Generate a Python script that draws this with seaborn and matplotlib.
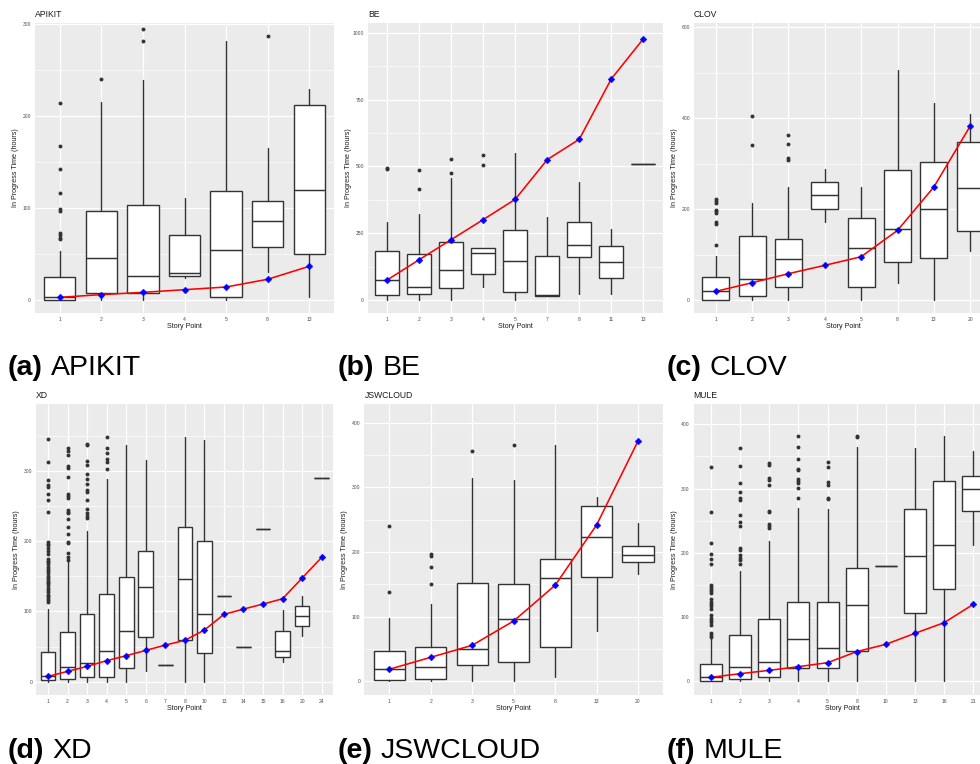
import numpy as np
import matplotlib
matplotlib.use("Agg")
import matplotlib.pyplot as plt
import seaborn as sns

# ---------------- DATA ----------------
# APIKIT
apikit_sp = ["1", "2", "3", "4", "5", "8", "13"]
apikit_q1 = [0, 7.3, 7.3, 25.8, 3.6, 57.3, 50]
apikit_med = [2.9, 45.7, 25.8, 29.4, 54.4, 86.3, 119.3]
apikit_q3 = [25.4, 97.2, 103, 70.4, 118.6, 107.4, 211.8]
apikit_lo = [0, 0, 0, 23.6, 0, 30.8, 2.9]
apikit_hi = [53.7, 216, 240, 111.4, 282.5, 165, 230]
apikit_out = [[215, 168, 143, 117, 99, 97, 73, 71, 68, 66], [241], [282.5, 295.6], [], [], [287.6], []]
apikit_line = [2.9, 5.8, 8.3, 11.2, 14.1, 22.5, 36.6]

# BE
be_sp = ["1", "2", "3", "4", "5", "7", "8", "11", "13"]
be_q1 = [17.5, 21, 43.7, 96, 28.7, 16.2, 159.8, 82.4, 510.6]
be_med = [75, 48.7, 111, 174.8, 144.8, 17.5, 206, 142.3, 510.6]
be_q3 = [185, 173.5, 216, 193.5, 261, 164.8, 291, 203.5, 510.6]
be_lo = [0, 0, 0, 47.4, 0, 16, 22.5, 21, 510.6]
be_hi = [291, 322, 455.7, 193.5, 551.8, 312, 440.7, 264.7, 510.6]
be_out = [[495.6, 490.6], [485.6, 417], [529, 474], [544, 507], [], [], [], [], []]
be_line = [75, 151, 226, 301, 377, 525.6, 601.7, 827.7, 977.5]

# CLOV
clov_sp = ["1", "2", "3", "4", "5", "8", "13", "20"]
clov_q1 = [0, 8.8, 27.8, 200, 27.8, 83.5, 92.3, 151.6]
clov_med = [19, 45.4, 90.8, 230, 115, 156.8, 200, 247]
clov_q3 = [49.8, 140.7, 134.8, 259.3, 181, 286.4, 303.3, 348]
clov_lo = [0, 0, 0, 172, 0, 38, 0, 107.7]
clov_hi = [96.7, 213, 247.6, 288, 249, 504.8, 433.7, 408]
clov_out = [[221, 217.6, 212.5, 198.5, 195.6, 192, 170.7, 167, 120.9], [341.4, 405], [307.7, 312.8, 344, 362.6], [], [], [], [], []]
clov_line = [19, 38, 57.9, 76.2, 95.2, 153, 248.4, 382.4]

# XD
xd_sp = ["1", "2", "3", "4", "5", "6", "7", "8", "10", "13", "14", "15", "16", "20", "24"]
xd_q1 = [1.9, 3.8, 6.2, 6.6, 19, 64, 24.2, 58.8, 40.3, 121.3, 48.8, 217.5, 35.5, 78.7, 289]
xd_med = [7.6, 20.9, 27, 43.6, 71.6, 134.6, 24.2, 145.5, 95.7, 121.3, 48.8, 217.5, 44, 93.4, 289]
xd_q3 = [42.7, 70.1, 96.2, 124.6, 148.3, 185.3, 24.2, 219.4, 200.5, 121.3, 48.8, 217.5, 72.5, 108, 289]
xd_lo = [0, 0, 0, 0, 0, 15.6, 24.2, 0, 0, 121.3, 48.8, 217.5, 28.4, 64.5, 289]
xd_hi = [102.8, 175.3, 214.7, 288, 336.5, 314.7, 24.2, 348.3, 343.6, 121.3, 48.8, 217.5, 101.4, 122.3, 289]
xd_out = [
    [345, 312, 287, 280, 277, 267, 259, 242, 199, 196, 194, 190, 186, 182, 175, 172, 170, 167,
     163, 160, 157, 154, 150, 148, 145, 142, 140, 137, 133, 130, 127, 124, 122, 119, 116, 114],
    [332.7, 328, 321.8, 306.6, 303.3, 291, 266.8, 264, 260.6, 244, 241.7, 239.3, 232, 219.4,
     210.4, 199, 196.7, 183.4, 178, 173],
    [337.9, 336, 314.2, 308, 294.8, 288.6, 281.5, 273, 269.2, 258.3, 245, 240.3, 236, 232.7],
    [347.4, 332.7, 324.6, 316.6, 312.8, 301.9],
    [], [], [], [], [], [], [], [], [], [], []]
xd_line = [7.6, 14.7, 21.8, 29.9, 37, 44.5, 52.1, 58.8, 73.5, 95.7, 103.3, 110.4, 118, 147.4, 176.8]

# JSWCLOUD
jsw_sp = ["1", "2", "3", "5", "8", "13", "20"]
jsw_q1 = [1.5, 4.1, 25.8, 29.9, 53.1, 161.4, 185]
jsw_med = [18.6, 22.7, 50, 95.9, 160.3, 223.2, 194.9]
jsw_q3 = [46.4, 53.6, 152.6, 150, 189.7, 271.7, 209.8]
jsw_lo = [0, 0, 0, 0, 6.7, 77.3, 166.5]
jsw_hi = [97.4, 120, 314, 311.9, 365, 285.6, 245.4]
jsw_out = [[138, 240], [150, 176.3, 194.3, 196.4], [356.2], [365], [], [], []]
jsw_line = [18.6, 37.1, 55.7, 93.3, 148.5, 241.8, 371.7]

# MULE
mule_sp = ["1", "2", "3", "4", "5", "8", "10", "13", "16", "21"]
mule_q1 = [0.5, 4.2, 6.2, 21.3, 20.2, 47.7, 179.5, 106.4, 144.2, 265]
mule_med = [6.2, 22.8, 30.6, 65.4, 51.4, 118.3, 179.5, 194.5, 212.2, 298.8]
mule_q3 = [27.5, 72, 96.5, 123, 123, 176.9, 179.5, 268.7, 312.3, 319]
mule_lo = [0, 0, 0, 0, 0, 0, 179.5, 0, 0, 212.2]
mule_hi = [67, 171.7, 217.9, 269.3, 267.7, 364.7, 179.5, 363.7, 382.4, 358]
mule_out = [
    [334, 264, 216, 198, 191, 183, 150, 147, 144, 140, 137, 128, 124, 120, 117, 113, 103, 99, 96, 92, 88, 75, 72, 69],
    [362.6, 334.6, 308.7, 294.7, 284.8, 281.7, 258.9, 248, 241.2, 208, 204.4, 196.6, 192.5, 188.8, 182.6],
    [339.8, 336.7, 316.5, 313.4, 305, 265.6, 263.5, 244.4, 241.8, 239.2],
    [381.8, 364.7, 346.6, 331, 329, 314.4, 311.8, 309.2, 301.4, 285.9],
    [340.9, 334, 310.2, 306.1, 285.9, 283.3],
    [382.4, 380.3], [], [], [], []]
mule_line = [6.2, 11.9, 17.1, 22.8, 29, 46.2, 57.6, 74.7, 91.3, 119.8]

titles = ["APIKIT", "BE", "CLOV", "XD", "JSWCLOUD", "MULE"]
captions = ["(a)", "(b)", "(c)", "(d)", "(e)", "(f)"]

# ---------------- STYLE ----------------
sns.set_theme(style="darkgrid")
plt.rcParams["font.family"] = ["Liberation Sans", "DejaVu Sans"]

W, H = 980, 764
fig = plt.figure(figsize=(W / 100, H / 100), dpi=100)

# panel pixel boxes: left, top, right, bottom
boxes_px = [
    (35, 23, 334, 313),
    (368, 23, 662.5, 313),
    (694, 23, 992, 313),
    (36.3, 404, 333.4, 695),
    (364.4, 404, 662.9, 695),
    (693.5, 404, 990.8, 695),
]
ylims = [(-14.2, 301.6), (-48.7, 1037), (-28.6, 609), (-18.9, 394.9), (-21.2, 429), (-21.3, 431.6)]
ymajor = [[0, 100, 200, 300], [0, 250, 500, 750, 1000], [0, 200, 400, 600],
          [0, 100, 200, 300], [0, 100, 200, 300, 400], [0, 100, 200, 300, 400]]

panels = [
    (apikit_sp, apikit_q1, apikit_med, apikit_q3, apikit_lo, apikit_hi, apikit_out, apikit_line),
    (be_sp, be_q1, be_med, be_q3, be_lo, be_hi, be_out, be_line),
    (clov_sp, clov_q1, clov_med, clov_q3, clov_lo, clov_hi, clov_out, clov_line),
    (xd_sp, xd_q1, xd_med, xd_q3, xd_lo, xd_hi, xd_out, xd_line),
    (jsw_sp, jsw_q1, jsw_med, jsw_q3, jsw_lo, jsw_hi, jsw_out, jsw_line),
    (mule_sp, mule_q1, mule_med, mule_q3, mule_lo, mule_hi, mule_out, mule_line),
]

edge = "#333333"
renderer = fig.canvas.get_renderer()
for i, (sp, q1, med, q3, lo, hi, out, line) in enumerate(panels):
    l, t, r, b = boxes_px[i]
    ax = fig.add_axes([l / W, 1 - b / H, (r - l) / W, (b - t) / H])
    ax.set_facecolor("#EBEBEB")
    n = len(sp)
    pos = np.arange(n)

    stats = []
    for k in range(n):
        stats.append(dict(med=med[k], q1=q1[k], q3=q3[k], whislo=lo[k], whishi=hi[k],
                          fliers=np.array(out[k], dtype=float)))
    ax.bxp(stats, positions=pos, widths=0.75, patch_artist=True, showcaps=False,
           boxprops=dict(facecolor="white", edgecolor=edge, linewidth=1.0),
           medianprops=dict(color=edge, linewidth=1.05),
           whiskerprops=dict(color=edge, linewidth=1.0),
           flierprops=dict(marker="o", markerfacecolor=edge, markeredgecolor="none", markersize=2.8),
           zorder=2)

    sns.lineplot(x=pos, y=line, color="red", linewidth=1.15, ax=ax, zorder=3)
    sns.scatterplot(x=pos, y=line, marker="D", color="blue", s=12, edgecolor="blue",
                    linewidth=0.3, ax=ax, zorder=4)

    ax.set_xlim(-0.6, n - 0.4)
    ax.set_ylim(*ylims[i])
    ax.set_xticks(pos)
    ax.set_xticklabels(sp)
    ax.set_yticks(ymajor[i])
    ax.set_yticklabels([str(v) for v in ymajor[i]])
    step = ymajor[i][1] - ymajor[i][0]
    minors = [v + step / 2 for v in ymajor[i]] + [ymajor[i][0] - step / 2]
    minors = [m for m in minors if ylims[i][0] < m < ylims[i][1]]
    ax.set_yticks(minors, minor=True)
    ax.grid(True, which="major", color="white", linewidth=0.9)
    ax.grid(True, which="minor", axis="y", color="white", linewidth=0.45)
    ax.set_axisbelow(True)
    for s in ax.spines.values():
        s.set_visible(False)
    ax.tick_params(axis="both", which="major", length=1.6, width=0.5, color=edge,
                   labelsize=3.6, labelcolor="#4D4D4D", pad=1.2)
    ax.tick_params(axis="both", which="minor", length=0)

    axw = r - l
    axh = b - t
    ax.set_xlabel("Story Point", fontsize=5.1, color="#1A1A1A")
    ax.xaxis.set_label_coords(0.5, -10.5 / axh)
    ax.set_ylabel("In Progress Time (hours)", fontsize=5.1, color="#1A1A1A")
    ax.yaxis.set_label_coords(-16 / axw, 0.5)
    ax.set_title(titles[i], loc="left", fontsize=6.2, color="#1A1A1A", pad=4.3)

    # caption: bold "(x)" then the project name
    cx = [8, 338, 667][i % 3]
    cy = [375, 758][i // 3]
    t1 = fig.text(cx / W, 1 - cy / H, captions[i], fontsize=20.5, fontweight="bold",
                  ha="left", va="baseline", color="black")
    x1 = t1.get_window_extent(renderer=renderer).x1
    fig.text((x1 + 8) / W, 1 - cy / H, titles[i], fontsize=20.5,
             ha="left", va="baseline", color="black")

fig.savefig("out.png", dpi=100)
